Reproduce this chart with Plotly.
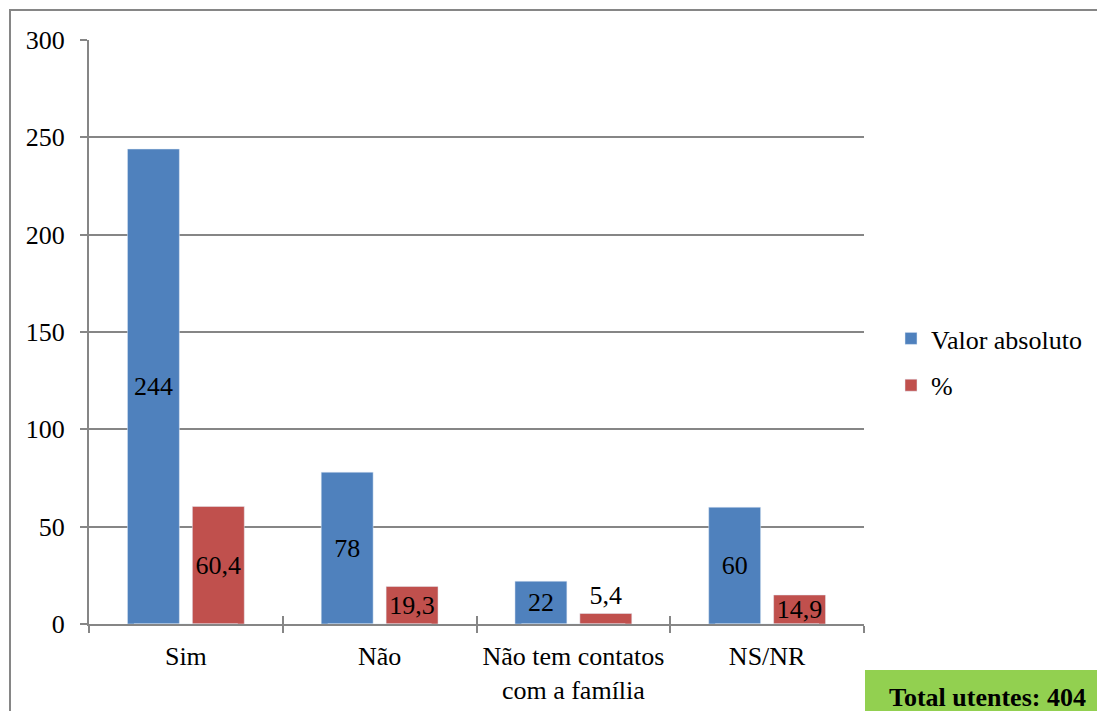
import plotly.graph_objects as go

categorias = ["Sim", "Não", "Não tem contatos<br>com a família", "NS/NR"]
valor_absoluto = [244, 78, 22, 60]
percentagem = [60.4, 19.3, 5.4, 14.9]
rotulos_abs = ["244", "78", "22", "60"]
rotulos_pct = ["60,4", "19,3", "5,4", "14,9"]
total_texto = "Total utentes: 404"

fonte = "Liberation Serif, Times New Roman, serif"
cinza = "#868686"
TAM = 26

# the page body adds an 8px offset, so screen pixels are shifted by 8
OFF = 8
L, R, T, B = 89 - OFF, 864 - OFF, 40 - OFF, 624 - OFF
W, H = 1105, 711


def px(x):
    return (x - OFF - L) / (R - L)


def py(y):
    return (B - (y - OFF)) / (B - T)


fig = go.Figure()
fig.add_trace(go.Bar(
    x=categorias, y=valor_absoluto, name="Valor absoluto", legendgroup="a",
    marker_color="#4F81BD", text=rotulos_abs,
    textposition=["inside", "inside", "inside", "inside"],
    insidetextanchor="middle", constraintext="none",
    textfont=dict(color="black", size=TAM, family=fonte),
    cliponaxis=False))
fig.add_trace(go.Bar(
    x=categorias, y=percentagem, name="%", legendgroup="b",
    marker_color="#C0504D", text=rotulos_pct,
    textposition=["inside", "inside", "outside", "inside"],
    insidetextanchor="middle", constraintext="none",
    textfont=dict(color="black", size=TAM, family=fonte),
    cliponaxis=False))
# invisible helper trace on overlay axis for inside boundary ticks
fig.add_trace(go.Bar(x=categorias, y=[0, 0, 0, 0], xaxis="x2", showlegend=False,
                     hoverinfo="skip", marker_color="rgba(0,0,0,0)"))

fig.update_layout(
    width=W, height=H,
    margin=dict(l=L, r=W - R, t=T, b=H - B, autoexpand=False),
    paper_bgcolor="white", plot_bgcolor="white",
    font=dict(family=fonte, size=TAM, color="black"),
    barmode="group", bargap=0.33, bargroupgap=0.2,
    legend=dict(x=px(891), y=py(315), xanchor="left", yanchor="top",
                font=dict(size=TAM, family=fonte), tracegroupgap=10,
                itemwidth=30, bgcolor="rgba(0,0,0,0)"),
    xaxis=dict(showline=True, linecolor=cinza, linewidth=2, ticks="outside",
               tickson="boundaries", ticklen=7, tickwidth=2, tickcolor=cinza,
               tickfont=dict(size=TAM), showgrid=False, zeroline=False,
               ticklabelstandoff=8),
    xaxis2=dict(overlaying="x", matches="x", ticks="inside", tickson="boundaries",
                ticklen=8, tickwidth=2, tickcolor=cinza, showticklabels=False,
                showline=False, showgrid=False, side="bottom", anchor="y"),
    yaxis=dict(range=[0, 300], dtick=50, showline=True, linecolor=cinza,
               linewidth=2, ticks="outside", ticklen=7, tickwidth=2,
               tickcolor=cinza, showgrid=True, gridcolor=cinza, gridwidth=1.5,
               zeroline=False, tickfont=dict(size=TAM), ticklabelstandoff=10),
    shapes=[
        dict(type="rect", xref="paper", yref="paper", x0=px(10), x1=px(1125),
             y0=py(740), y1=py(10), line=dict(color=cinza, width=2),
             layer="below"),
        dict(type="rect", xref="paper", yref="paper", x0=px(865), x1=px(1125),
             y0=py(740), y1=py(670), fillcolor="#92D050", line=dict(width=0)),
    ],
    annotations=[
        dict(text="<b>" + total_texto + "</b>", xref="paper", yref="paper",
             x=px(988), y=py(697), xanchor="center", yanchor="middle",
             showarrow=False, font=dict(size=TAM, family=fonte, color="black")),
    ],
)

fig.write_html("out.html")
